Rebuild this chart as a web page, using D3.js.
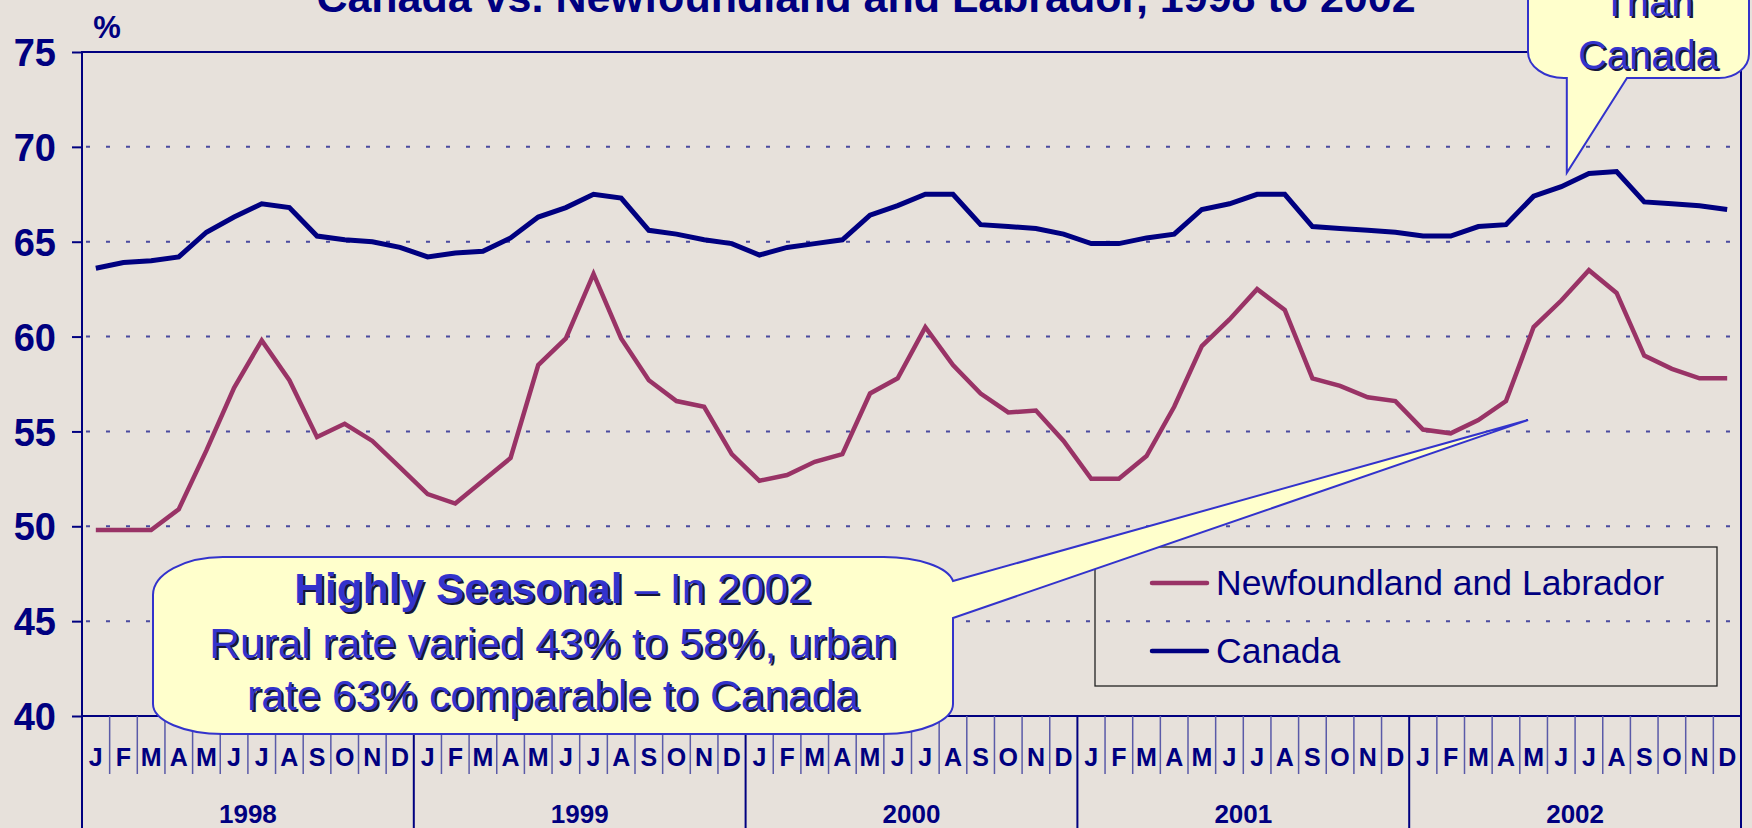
<!DOCTYPE html>
<html>
<head>
<meta charset="utf-8">
<script src="https://cdn.jsdelivr.net/npm/d3@7"></script>
<style>
  html, body { margin: 0; padding: 0; background: #e7e1db; overflow: hidden; }
  svg { display: block; font-family: Arial, "Liberation Sans", sans-serif; }
</style>
</head>
<body>
<div id="chart"></div>
<script>
// month letters and years on the x axis
const monthLetters = ["J", "F", "M", "A", "M", "J", "J", "A", "S", "O", "N", "D"];
const years = ["1998", "1999", "2000", "2001", "2002"];
const yTicks = [40, 45, 50, 55, 60, 65, 70, 75];

// participation rate, %, Jan 1998 .. Dec 2002
const canadaRate = [
  63.6, 63.9, 64.0, 64.2, 65.5, 66.3, 67.0, 66.8, 65.3, 65.1, 65.0, 64.7,
  64.2, 64.4, 64.5, 65.2, 66.3, 66.8, 67.5, 67.3, 65.6, 65.4, 65.1, 64.9,
  64.3, 64.7, 64.9, 65.1, 66.4, 66.9, 67.5, 67.5, 65.9, 65.8, 65.7, 65.4,
  64.9, 64.9, 65.2, 65.4, 66.7, 67.0, 67.5, 67.5, 65.8, 65.7, 65.6, 65.5,
  65.3, 65.3, 65.8, 65.9, 67.4, 67.9, 68.6, 68.7, 67.1, 67.0, 66.9, 66.7
];
const nlRate = [
  49.8, 49.8, 49.8, 50.9, 54.0, 57.3, 59.8, 57.7, 54.7, 55.4, 54.5, 53.1,
  51.7, 51.2, 52.4, 53.6, 58.5, 59.9, 63.3, 59.9, 57.7, 56.6, 56.3, 53.8,
  52.4, 52.7, 53.4, 53.8, 57.0, 57.8, 60.5, 58.5, 57.0, 56.0, 56.1, 54.5,
  52.5, 52.5, 53.7, 56.3, 59.5, 60.9, 62.5, 61.4, 57.8, 57.4, 56.8, 56.6,
  55.1, 54.9, 55.6, 56.6, 60.5, 61.9, 63.5, 62.3, 59.0, 58.3, 57.8, 57.8
];

const seriesNames = ["Newfoundland and Labrador", "Canada"];
const seriesColors = ["#993366", "#000080"];

const titleText = "Canada vs. Newfoundland and Labrador, 1998 to 2002";
const noteTopLines = ["Than", "Canada"];
const noteBottomLines = ["Rural rate varied 43% to 58%, urban", "rate 63% comparable to Canada"];

const W = 1752, H = 828;
const navy = "#000080";
const balloonFill = "#ffffcc", balloonStroke = "#3333cc";

const svg = d3.select("#chart").append("svg")
  .attr("width", W)
  .attr("height", H);

svg.append("rect").attr("width", W).attr("height", H).attr("fill", "#e7e1db");

const x = d3.scaleBand().domain(d3.range(canadaRate.length)).range([82, 1741]);
const y = d3.scaleLinear().domain([40, 75]).range([716, 52]);
const bw = x.bandwidth();
const [x0, x1] = x.range();

// dotted grid lines
svg.append("g").selectAll("line")
  .data(yTicks.filter(d => d > 40 && d < 75))
  .enter().append("line")
  .attr("x1", x0).attr("x2", x1)
  .attr("y1", d => y(d)).attr("y2", d => y(d))
  .attr("stroke", "#4a4aa0")
  .attr("stroke-width", 2)
  .attr("stroke-dasharray", "4 16")
  .attr("stroke-dashoffset", -4);

// y axis
const yAxis = svg.append("g")
  .attr("transform", `translate(${x0},0)`)
  .call(d3.axisLeft(y).tickValues(yTicks).tickSize(10).tickPadding(16).tickFormat(d3.format("d")));
yAxis.select(".domain").remove();
yAxis.selectAll(".tick line").attr("stroke", navy).attr("stroke-width", 2);
yAxis.selectAll(".tick text")
  .attr("fill", navy)
  .style("font-size", "38px")
  .style("font-weight", "bold")
  .attr("dy", "0.36em");

// plot frame
svg.append("rect")
  .attr("x", x0).attr("y", y(75))
  .attr("width", x1 - x0).attr("height", y(40) - y(75))
  .attr("fill", "none")
  .attr("stroke", navy)
  .attr("stroke-width", 2);

// month / year separators below the axis
const bounds = d3.range(canadaRate.length + 1);
svg.append("g").selectAll("line")
  .data(bounds)
  .enter().append("line")
  .attr("x1", i => i < canadaRate.length ? x(i) : x1)
  .attr("x2", i => i < canadaRate.length ? x(i) : x1)
  .attr("y1", y(40))
  .attr("y2", i => i % 12 === 0 ? H : 774)
  .attr("stroke", i => i % 12 === 0 ? navy : "#5a5aa8")
  .attr("stroke-width", i => i % 12 === 0 ? 2 : 1.5);

svg.append("g").selectAll("text")
  .data(d3.range(canadaRate.length))
  .enter().append("text")
  .attr("x", i => x(i) + bw / 2)
  .attr("y", 766)
  .attr("text-anchor", "middle")
  .attr("fill", navy)
  .style("font-size", "25px")
  .style("font-weight", "bold")
  .text(i => monthLetters[i % 12]);

svg.append("g").selectAll("text")
  .data(years)
  .enter().append("text")
  .attr("x", (d, k) => x(k * 12) + bw * 6)
  .attr("y", 823)
  .attr("text-anchor", "middle")
  .attr("fill", navy)
  .style("font-size", "26px")
  .style("font-weight", "bold")
  .text(d => d);

// series lines
const line = d3.line()
  .x((d, i) => x(i) + bw / 2)
  .y(d => y(d));

[nlRate, canadaRate].forEach((values, k) => {
  svg.append("path")
    .datum(values)
    .attr("fill", "none")
    .attr("stroke", seriesColors[k])
    .attr("stroke-width", k === 1 ? 5 : 4.5)
    .attr("stroke-linejoin", "miter")
    .attr("d", line);
});

// legend
const legend = svg.append("g");
legend.append("rect")
  .attr("x", 1095).attr("y", 547)
  .attr("width", 622).attr("height", 139)
  .attr("fill", "none")
  .attr("stroke", "#222")
  .attr("stroke-width", 1.3);
seriesNames.forEach((name, k) => {
  const ly = 583 + k * 68;
  legend.append("line")
    .attr("x1", 1152).attr("x2", 1207)
    .attr("y1", ly).attr("y2", ly)
    .attr("stroke", seriesColors[k])
    .attr("stroke-width", 4.5)
    .attr("stroke-linecap", "round");
  legend.append("text")
    .attr("x", 1216).attr("y", ly)
    .attr("dy", "0.35em")
    .attr("fill", navy)
    .style("font-size", "35.5px")
    .text(name);
});

// shadowed callout text
function shadowText(g, xPos, yPos, size, parts) {
  [["#15153a", 2], [balloonStroke, 0]].forEach(([fill, off]) => {
    const t = g.append("text")
      .attr("x", xPos + off).attr("y", yPos + off)
      .attr("text-anchor", "middle")
      .attr("fill", fill)
      .style("font-size", size + "px");
    parts.forEach(p => {
      t.append("tspan").style("font-weight", p.bold ? "bold" : "normal").text(p.text);
    });
  });
}

// bottom callout with its pointer
const bl = 153, br = 953, bt = 557, bb = 734;
const tipB = [x(52) + bw * 0.3, y(55.6)];
const callB = svg.append("g");
callB.append("path")
  .attr("d", `M${bl + 70},${bt} L${br - 70},${bt} A70,28 0 0 1 ${br},${bt + 24}
    L${tipB[0]},${tipB[1]} L${br},618 L${br},${bb - 30}
    A70,30 0 0 1 ${br - 70},${bb} L${bl + 70},${bb} A70,30 0 0 1 ${bl},${bb - 30}
    L${bl},${bt + 38} A70,38 0 0 1 ${bl + 70},${bt} Z`)
  .attr("fill", balloonFill)
  .attr("stroke", balloonStroke)
  .attr("stroke-width", 2);
const bcx = (bl + br) / 2;
shadowText(callB, bcx, 603, 42.5, [{ text: "Highly Seasonal", bold: true }, { text: " \u2013 In 2002" }]);
noteBottomLines.forEach((t, i) => shadowText(callB, bcx, 658 + i * 52, 42.5, [{ text: t }]));

// top right callout
const tl = 1528, tr = 1749, tb = 78;
const tipT = [x(53) + bw * 0.7, y(68.0) - 12];
const callT = svg.append("g");
callT.append("path")
  .attr("d", `M${tl},-20 L${tl},${tb - 26} A36,26 0 0 0 ${tl + 36},${tb}
    L${tipT[0]},${tb} L${tipT[0]},${tipT[1]} L1627,${tb}
    L${tr - 30},${tb} A30,24 0 0 0 ${tr},${tb - 24} L${tr},-20 Z`)
  .attr("fill", balloonFill)
  .attr("stroke", balloonStroke)
  .attr("stroke-width", 2);
noteTopLines.forEach((t, i) => shadowText(callT, 1648, 16 + i * 53, 40, [{ text: t }]));

// title and unit
svg.append("text")
  .attr("x", 866).attr("y", 12)
  .attr("text-anchor", "middle")
  .attr("fill", navy)
  .style("font-size", "43px")
  .style("font-weight", "bold")
  .text(titleText);

svg.append("text")
  .attr("x", 107).attr("y", 38)
  .attr("text-anchor", "middle")
  .attr("fill", navy)
  .style("font-size", "31px")
  .style("font-weight", "bold")
  .text("%");
</script>
</body>
</html>
